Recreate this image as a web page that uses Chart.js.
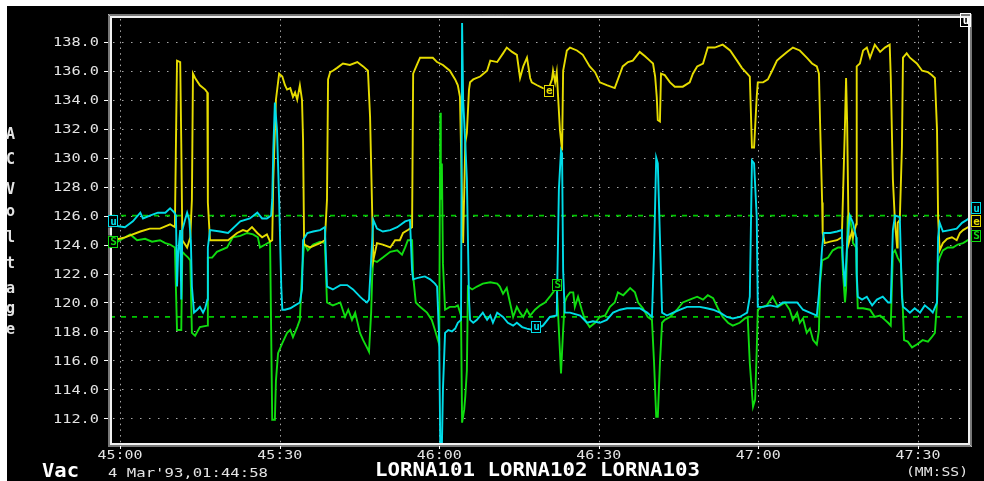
<!DOCTYPE html>
<html><head><meta charset="utf-8">
<script src="https://cdn.jsdelivr.net/npm/chart.js@4/dist/chart.umd.min.js"></script>
<style>html,body{margin:0;padding:0;background:#fff;overflow:hidden}canvas{display:block}</style>
</head><body>
<canvas id="c" width="984" height="481"></canvas>
<script>
// ---- data (time in seconds after 01:45:00, AC volts) ----
const yellowT = [-1.3,0.9,3.8,5.6,7.5,9.4,10.3,10.5,10.7,11.3,
 11.5,11.7,12.6,13.2,13.5,13.7,14.1,15.0,16.0,16.4,
 16.5,16.9,20.3,22.0,23.1,23.9,24.8,25.8,26.7,27.6,
 28.2,28.6,28.8,29.3,29.9,30.5,31.0,31.4,32.0,32.5,
 32.9,33.3,33.8,34.2,34.4,34.6,35.7,37.6,38.5,38.9,
 39.1,39.5,40.0,40.8,41.9,43.2,44.6,45.7,46.6,47.0,
 47.4,47.6,48.3,49.4,50.8,51.7,52.6,53.2,54.1,54.9,
 55.1,55.8,56.4,57.7,58.8,59.6,60.7,62.0,63.0,63.5,
 63.9,64.3,64.5,64.9,65.2,65.6,65.8,66.4,67.7,69.0,
 69.6,70.9,72.0,72.7,73.7,74.6,75.2,75.8,76.5,77.1,
 77.4,78.4,79.5,80.5,81.2,81.4,81.8,82.1,82.7,83.1,
 83.3,84.0,84.6,85.9,87.0,88.3,89.3,90.2,91.5,93.0,
 93.6,94.5,95.5,96.4,97.7,98.7,99.6,100.2,100.6,100.9,
 101.1,101.5,101.7,102.4,103.4,104.3,105.8,107.1,107.7,108.5,
 109.6,110.5,111.8,113.3,114.7,116.0,116.9,117.9,118.4,118.8,
 119.2,119.7,119.9,120.9,121.8,122.6,123.5,124.1,125.4,126.5,
 127.8,129.1,130.1,131.0,131.4,131.6,132.0,132.1,132.5,133.5,
 134.8,135.7,135.9,136.3,136.5,136.7,137.0,137.6,137.8,138.4,
 138.5,139.1,139.7,140.4,141.0,141.9,142.9,143.8,144.7,144.9,
 145.3,145.7,146.1,146.2,146.6,147.0,147.2,147.9,148.5,149.8,
 150.8,151.9,152.6,153.2,153.6,153.8,154.1,154.7,155.5,156.4,
 157.3,157.9,158.5,159.4,160.2];
const yellowV = [124.3,124.5,124.9,125.1,125.1,125.4,125.2,131.0,136.7,136.6,
 131.0,124.3,123.8,124.5,127.1,135.8,135.5,135.0,134.7,134.5,
 126.9,124.3,124.3,124.8,125.0,124.9,125.2,124.8,124.5,124.7,
 124.2,124.3,128.5,134.0,135.8,135.6,135.0,134.7,134.8,134.2,
 134.5,134.0,135.0,134.0,131.2,124.0,123.8,124.1,124.3,127.1,
 135.4,135.9,136.0,136.2,136.5,136.4,136.6,136.3,136.0,132.8,
 126.2,122.9,124.1,124.0,123.8,124.3,124.3,124.8,125.0,125.2,
 135.8,136.4,136.9,136.9,136.9,136.6,136.4,136.0,135.4,135.0,
 134.2,127.1,124.1,131.0,131.7,134.7,135.2,135.4,135.6,136.0,
 136.7,136.6,137.2,137.6,137.3,137.1,135.5,136.3,136.9,135.5,
 135.2,135.0,134.8,134.7,135.4,136.0,135.2,135.9,131.9,130.5,
 136.0,137.4,137.6,137.4,137.1,136.3,135.9,135.2,135.0,134.8,
 135.4,136.3,136.6,136.7,137.3,137.0,136.7,136.5,135.6,134.2,
 132.6,132.5,135.8,135.7,135.2,134.9,134.9,135.2,135.8,136.3,
 136.5,137.6,137.6,137.8,137.4,136.7,136.2,135.8,135.6,130.7,
 130.7,134.2,135.2,135.2,135.4,136.0,136.7,136.9,137.3,137.6,
 137.4,136.9,136.5,136.3,135.8,132.6,126.9,124.8,124.1,124.2,
 124.3,124.5,127.1,132.4,135.5,132.4,124.1,124.9,124.5,125.4,
 136.3,136.5,137.4,137.6,136.9,137.8,137.3,137.6,137.8,135.6,
 128.5,125.5,123.8,125.5,125.7,130.7,136.9,137.2,136.9,136.5,
 136.0,135.9,135.7,135.5,131.9,125.9,123.6,124.1,124.4,124.5,
 124.3,124.8,125.0,125.2,125.1];

const cyanT = [-1.3,-0.9,0.9,2.4,3.8,4.3,5.6,7.1,8.5,9.4,
 10.2,10.5,10.7,10.9,11.3,11.5,11.7,12.2,12.6,13.0,
 13.3,13.5,13.9,14.5,15.0,15.6,16.0,16.4,16.5,16.9,
 18.8,20.3,22.6,24.4,25.8,26.7,27.6,28.4,28.6,28.8,
 29.1,29.5,29.9,30.3,30.5,31.0,32.0,32.9,33.8,34.2,
 34.4,35.2,36.3,37.6,38.5,38.9,40.0,41.4,42.7,43.8,
 45.1,45.7,46.4,46.8,47.0,47.4,47.6,48.3,49.4,50.8,
 52.1,53.6,54.5,54.9,55.1,56.0,57.3,58.3,59.2,59.6,
 60.0,60.2,60.5,60.7,61.1,61.7,62.4,63.0,63.5,64.1,
 64.3,64.5,64.9,65.2,65.6,65.8,66.4,67.1,68.2,69.0,
 69.6,70.1,70.9,72.0,72.9,73.9,74.6,75.6,76.5,77.6,
 78.4,79.5,80.8,82.1,82.5,82.9,83.1,83.3,83.6,84.6,
 86.5,87.8,88.9,90.2,91.5,92.7,94.0,95.3,97.7,99.1,
 100.0,100.4,100.8,101.1,101.5,101.9,102.8,104.0,105.3,106.6,
 109.0,110.3,111.5,112.8,114.1,115.2,116.5,117.9,118.4,118.8,
 119.2,119.7,119.9,120.9,122.2,123.5,124.6,125.9,127.3,128.4,
 129.7,131.0,131.4,131.8,132.0,132.3,133.5,134.8,135.7,135.9,
 136.3,136.7,137.2,137.8,138.4,138.5,138.7,139.5,140.4,141.4,
 142.3,143.4,144.4,144.9,145.3,145.7,146.6,147.0,147.2,147.9,
 148.5,149.4,150.4,151.3,152.3,152.8,153.6,153.8,154.1,154.7,
 156.0,157.3,158.3,159.2,160.2];
const cyanV = [125.3,125.3,125.2,125.6,126.2,125.8,126.0,126.2,126.2,126.5,
 126.2,126.0,121.1,123.3,125.0,120.2,125.0,125.7,126.2,125.7,
 124.3,121.1,119.3,119.5,119.7,119.3,119.6,120.2,123.8,125.0,
 124.9,124.8,125.6,125.8,126.2,125.8,125.8,126.0,127.1,130.5,
 133.8,131.9,127.1,121.1,119.5,119.5,119.6,119.8,120.0,120.9,
 124.3,124.8,124.9,125.0,125.2,121.1,120.9,121.2,121.2,120.9,
 120.4,120.2,120.0,120.2,121.6,124.3,125.7,125.1,124.9,125.0,
 125.2,125.6,125.7,122.2,121.6,121.7,121.8,121.6,121.3,121.1,
 117.4,110.0,110.0,114.0,117.9,118.1,118.0,118.2,118.6,118.8,
 139.3,134.0,131.0,128.5,120.2,118.8,118.6,118.8,119.3,118.8,
 119.1,118.6,119.3,119.0,118.6,118.4,118.6,118.3,118.2,118.1,
 118.2,118.4,119.0,119.1,127.8,130.5,130.3,122.2,119.3,119.3,
 119.1,118.6,118.7,118.6,118.8,119.3,119.5,119.6,119.6,119.3,
 119.0,123.6,130.0,129.6,124.5,119.3,119.1,119.3,119.5,119.7,
 119.7,119.6,119.5,119.3,119.0,118.9,119.0,119.3,120.4,129.8,
 129.6,125.9,119.7,119.7,119.8,119.7,120.0,120.0,120.0,119.5,
 119.3,119.1,120.6,122.7,123.8,124.8,124.8,124.9,125.0,122.9,
 121.1,124.1,126.0,125.5,124.5,122.0,120.4,120.2,120.4,119.8,
 120.2,120.4,120.0,120.0,125.0,126.0,125.9,120.4,119.7,119.5,
 119.3,119.6,119.3,119.8,119.5,119.3,120.0,124.5,125.5,124.9,
 125.0,125.1,125.5,125.7,126.0];

const greenT = [-1.3,0.0,1.9,3.2,4.7,6.0,7.5,8.5,9.4,10.3,
 10.7,11.5,11.7,12.2,12.8,13.2,13.5,14.1,15.0,16.4,
 16.5,17.3,18.2,20.1,21.2,22.6,23.9,25.0,25.9,26.3,
 27.3,28.2,28.6,29.1,29.3,29.7,30.5,31.4,32.0,32.5,
 33.3,33.8,34.2,34.6,35.3,36.3,37.6,38.5,38.9,40.0,
 41.4,42.3,42.9,43.6,44.2,45.1,45.7,46.4,46.8,47.2,
 47.4,47.6,48.3,49.4,50.8,52.1,53.0,53.6,54.1,54.9,
 55.1,55.6,56.4,57.7,58.6,59.2,59.6,60.0,60.2,60.3,
 60.5,60.7,61.1,62.0,63.0,63.5,64.1,64.3,64.7,64.9,
 65.2,65.4,66.2,67.1,68.2,69.6,70.9,71.4,72.0,72.7,
 73.3,73.9,74.6,75.2,75.8,76.5,77.1,78.0,79.0,79.9,
 80.8,81.4,82.1,82.5,82.9,83.3,83.6,84.0,84.6,85.2,
 85.5,86.1,86.8,87.4,88.3,89.3,90.2,91.2,92.1,93.0,
 93.6,94.6,95.9,96.8,97.4,98.3,99.2,100.0,100.4,100.8,
 101.1,101.5,101.9,102.4,103.4,104.7,105.8,107.1,108.5,109.6,
 110.5,111.5,112.4,113.3,114.3,115.2,116.5,117.5,118.0,118.4,
 119.0,119.4,119.7,119.9,120.7,121.6,122.7,123.7,125.0,125.9,
 126.5,127.3,127.8,128.4,129.1,129.7,130.3,131.0,131.4,131.6,
 132.0,133.1,134.0,135.0,135.7,135.9,136.3,136.5,136.8,137.2,
 137.6,137.8,138.4,138.5,138.7,139.7,141.0,141.9,142.9,143.8,
 144.4,144.9,145.3,145.7,146.2,146.8,147.2,147.4,148.1,148.9,
 149.8,150.9,151.9,152.6,153.2,153.6,153.8,154.1,154.7,155.6,
 156.6,157.5,158.5,159.4,160.2];
const greenV = [124.0,124.3,124.7,124.3,124.4,124.2,124.3,124.1,124.0,123.8,
 118.1,118.1,123.5,123.3,123.1,122.9,117.9,117.7,118.3,118.4,
 123.1,123.1,123.5,123.8,124.5,124.6,124.8,124.7,124.5,123.8,
 124.0,124.2,111.9,111.9,114.6,116.5,117.2,117.9,118.1,117.6,
 118.3,118.8,122.0,124.1,123.6,124.0,124.2,124.1,120.0,119.8,
 120.0,119.0,119.5,118.8,119.3,117.9,117.4,116.9,116.6,119.3,
 121.8,122.9,122.8,123.1,123.5,123.6,123.3,123.8,124.3,124.3,
 121.8,120.0,119.7,119.3,118.8,118.1,117.6,117.1,133.1,127.1,
 129.6,122.7,119.5,119.7,119.7,119.8,119.1,111.7,112.6,113.5,
 115.3,121.1,120.9,121.1,121.3,121.4,121.3,121.1,120.6,121.0,
 120.0,119.0,119.7,119.3,119.0,119.5,119.1,119.5,119.8,120.0,
 120.4,120.7,121.1,118.1,115.1,118.1,120.0,120.4,120.7,120.7,
 119.7,120.4,119.5,118.8,118.3,118.6,119.0,119.1,119.7,120.0,
 120.7,120.5,121.0,120.7,120.0,119.6,119.0,118.8,115.8,112.1,
 112.1,115.8,118.6,118.8,119.0,119.5,120.0,120.2,120.4,120.2,
 120.5,120.3,119.6,119.0,118.6,118.4,118.6,118.9,119.0,115.8,
 112.8,113.3,116.7,119.5,119.7,119.8,120.4,119.7,120.0,119.5,
 118.8,119.3,118.6,118.9,117.9,118.2,117.4,117.1,118.1,121.3,
 122.9,123.1,123.6,123.8,123.8,122.2,120.0,120.9,125.9,125.9,
 125.0,124.1,123.8,121.6,119.6,119.6,119.5,119.0,119.1,118.8,
 118.6,118.4,123.4,123.6,123.1,122.7,119.3,117.4,117.3,116.9,
 117.1,117.4,117.3,117.6,117.9,120.0,122.7,123.1,123.6,123.8,
 123.8,124.0,124.1,124.3,124.4];

const refLevels = [126, 119];
const yTickValues = [112,114,116,118,120,122,124,126,128,130,132,134,136,138];
const xTickValues = [0,30,60,90,120,150];
const xTickLabels = ['45:00','45:30','46:00','46:30','47:00','47:30'];
const traceTags = ['e','u','S'];          // yellow, cyan, green
const tagT = [80.6, 78.2, 82.2];
const tagV = [134.6, 118.3, 121.2];
const edgeTagV = [125.6, 126.5, 124.6];   // right-edge tags (yellow, cyan, green)
const startTagV = [null, 125.6, 124.2];
const axisTitle = 'AC Voltage';
const unitLabel = 'Vac';
const dateLabel = "4 Mar'93,01:44:58";
const seriesNames = ['LORNA101','LORNA102','LORNA103'];
const xUnitLabel = '(MM:SS)';
const X_MIN = -1.9, X_MAX = 159.8, Y_MIN = 110.16, Y_MAX = 139.78;

const YEL = '#e6dc00', CYA = '#00dce8', GRN = '#10dc10', REF = '#00c800';
const pts = (T, V) => T.map((t, i) => ({x: t, y: V[i]}));

function stretchText(ctx, txt, x, base, font, w, color) {
  ctx.save(); ctx.font = font; ctx.fillStyle = color;
  const m = ctx.measureText(txt).width;
  ctx.translate(x, base); ctx.scale(w / m, 1);
  ctx.textAlign = 'left'; ctx.textBaseline = 'alphabetic';
  ctx.fillText(txt, 0, 0); ctx.restore();
}
function tag(ctx, letter, cx, cy, color) {
  ctx.save();
  ctx.strokeStyle = color; ctx.lineWidth = 1;
  ctx.fillStyle = '#000';
  ctx.fillRect(cx - 5, cy - 6, 10, 12);
  ctx.strokeRect(Math.round(cx - 5) + 0.5, Math.round(cy - 6) + 0.5, 9, 11);
  ctx.fillStyle = color; ctx.font = 'bold 11px "DejaVu Sans Mono"';
  ctx.textAlign = 'center'; ctx.textBaseline = 'middle';
  ctx.fillText(letter, cx + 0.5, cy + 0.5);
  ctx.restore();
}

const bgPlugin = {
  id: 'bg',
  beforeDraw(c) {
    const ctx = c.ctx; ctx.save();
    ctx.fillStyle = '#fff'; ctx.fillRect(0, 0, c.width, c.height);
    ctx.fillStyle = '#000'; ctx.fillRect(7, 6, c.width - 7, c.height - 6);
    ctx.restore();
  }
};
const gridPlugin = {
  id: 'dotgrid',
  beforeDatasetsDraw(c) {
    const {ctx, chartArea: a, scales: {x, y}} = c;
    ctx.save(); ctx.strokeStyle = '#a8a8a8'; ctx.lineWidth = 1;
    ctx.setLineDash([1.5, 7.5]);
    yTickValues.forEach(v => {
      const py = Math.round(y.getPixelForValue(v)) + 0.5;
      ctx.beginPath(); ctx.moveTo(a.left + 3, py); ctx.lineTo(a.right - 2, py); ctx.stroke();
    });
    ctx.setLineDash([1.5, 4.2]);
    xTickValues.forEach(v => {
      const px = Math.round(x.getPixelForValue(v)) + 0.5;
      ctx.beginPath(); ctx.moveTo(px, a.top + 3); ctx.lineTo(px, a.bottom - 2); ctx.stroke();
    });
    ctx.restore();
  }
};
const framePlugin = {
  id: 'frame',
  afterDraw(c) {
    const {ctx, chartArea: a, scales: {x, y}} = c;
    const L = a.left, R = a.right, T = a.top, B = a.bottom;
    ctx.save();
    ctx.strokeStyle = '#f0f0f0'; ctx.lineWidth = 1;
    // inner solid frame
    ctx.strokeRect(L + 1.5, T + 1.5, R - L - 3, B - T - 3);
    ctx.strokeRect(L + 0.5, T + 0.5, R - L - 1, B - T - 1);
    // outer hatched frame
    ctx.setLineDash([1, 1]);
    ctx.beginPath();
    [ -0.5, -1.5 ].forEach(o => {
      ctx.moveTo(L + o, T + o); ctx.lineTo(L + o, B - o);
      ctx.moveTo(L + o, B - o); ctx.lineTo(R - o, B - o);
      ctx.moveTo(R - o, B - o); ctx.lineTo(R - o, T + o);
      ctx.moveTo(R - o, T + o); ctx.lineTo(L + o, T + o);
    });
    ctx.stroke();
    ctx.setLineDash([]);
    ctx.strokeStyle = '#ffffff';
    ctx.beginPath();
    yTickValues.forEach(v => {
      const py = Math.round(y.getPixelForValue(v)) + 0.5;
      ctx.moveTo(L - 6, py); ctx.lineTo(L - 2, py);
    });
    xTickValues.forEach(v => {
      const px = Math.round(x.getPixelForValue(v)) + 0.5;
      ctx.moveTo(px, B + 1); ctx.lineTo(px, B + 4);
    });
    ctx.stroke();
    // tick labels
    yTickValues.forEach(v => {
      const py = y.getPixelForValue(v);
      stretchText(ctx, v.toFixed(1), L - 57, py + 4.3, '11.5px "DejaVu Sans Mono"', 46, '#e4e4e4');
    });
    xTickValues.forEach((v, i) => {
      const px = x.getPixelForValue(v);
      stretchText(ctx, xTickLabels[i], px - 22.5, B + 14, '11.5px "DejaVu Sans Mono"', 45, '#e4e4e4');
    });
    // axis title (stacked letters)
    const letterY = [139, 164, 0, 194, 216, 242, 268, 293, 313, 334];
    ctx.fillStyle = '#e4e4e4'; ctx.font = 'bold 15px "DejaVu Sans Mono"';
    ctx.textAlign = 'left'; ctx.textBaseline = 'alphabetic';
    axisTitle.split('').forEach((ch, i) => { if (ch !== ' ') ctx.fillText(ch, 6, letterY[i]); });
    // bottom texts
    stretchText(ctx, unitLabel, 42, 477, 'bold 19px "DejaVu Sans Mono"', 37, '#ffffff');
    stretchText(ctx, dateLabel, 108, 477, '12.5px "DejaVu Sans Mono"', 160, '#e4e4e4');
    stretchText(ctx, seriesNames.join(' '), 375, 476, 'bold 20px "DejaVu Sans Mono"', 325, '#ffffff');
    stretchText(ctx, xUnitLabel, 906, 476, '13px "DejaVu Sans Mono"', 62, '#e4e4e4');
    // trace tags
    const cols = [YEL, CYA, GRN];
    traceTags.forEach((t, i) => {
      tag(ctx, t, x.getPixelForValue(tagT[i]), y.getPixelForValue(tagV[i]), cols[i]);
    });
    [1, 2].forEach(i => tag(ctx, traceTags[i], L + 3, y.getPixelForValue(startTagV[i]), cols[i]));
    [1, 0, 2].forEach(i => tag(ctx, traceTags[i], R + 6, y.getPixelForValue(edgeTagV[i]), cols[i]));
    // top-right cursor box
    ctx.strokeStyle = '#ffffff'; ctx.fillStyle = '#ffffff';
    ctx.strokeRect(R - 9.5, T - 2.5, 10, 13);
    ctx.font = 'bold 11px "DejaVu Sans Mono"'; ctx.textAlign = 'center';
    ctx.fillText('u', R - 4, T + 8);
    ctx.restore();
  }
};

const line = (data, color, extra) => Object.assign({
  data, borderColor: color, borderWidth: 1.9, pointRadius: 0, tension: 0, fill: false
}, extra || {});

new Chart(document.getElementById('c'), {
  type: 'line',
  data: {
    datasets: [
      line(pts(cyanT, cyanV), CYA),
      line(pts(yellowT, yellowV), YEL),
      line(pts(greenT, greenV), GRN),
      line(refLevels.slice(0,1).flatMap(v => [{x: X_MIN, y: v}, {x: X_MAX, y: v}]), REF, {borderDash: [5, 6], borderWidth: 1.7}),
      line(refLevels.slice(1,2).flatMap(v => [{x: X_MIN, y: v}, {x: X_MAX, y: v}]), REF, {borderDash: [5, 6], borderWidth: 1.7})
    ]
  },
  options: {
    responsive: false, animation: false, devicePixelRatio: 1,
    layout: {padding: {left: 0, top: 16, right: 14, bottom: 0}},
    plugins: {legend: {display: false}, tooltip: {enabled: false}},
    scales: {
      x: {type: 'linear', min: X_MIN, max: X_MAX,
          ticks: {display: false}, grid: {display: false, drawTicks: false}, border: {display: false},
          afterFit: s => { s.height = 36; }},
      y: {type: 'linear', min: Y_MIN, max: Y_MAX,
          ticks: {display: false}, grid: {display: false, drawTicks: false}, border: {display: false},
          afterFit: s => { s.width = 110; }}
    }
  },
  plugins: [bgPlugin, gridPlugin, framePlugin]
});
</script>
</body></html>
